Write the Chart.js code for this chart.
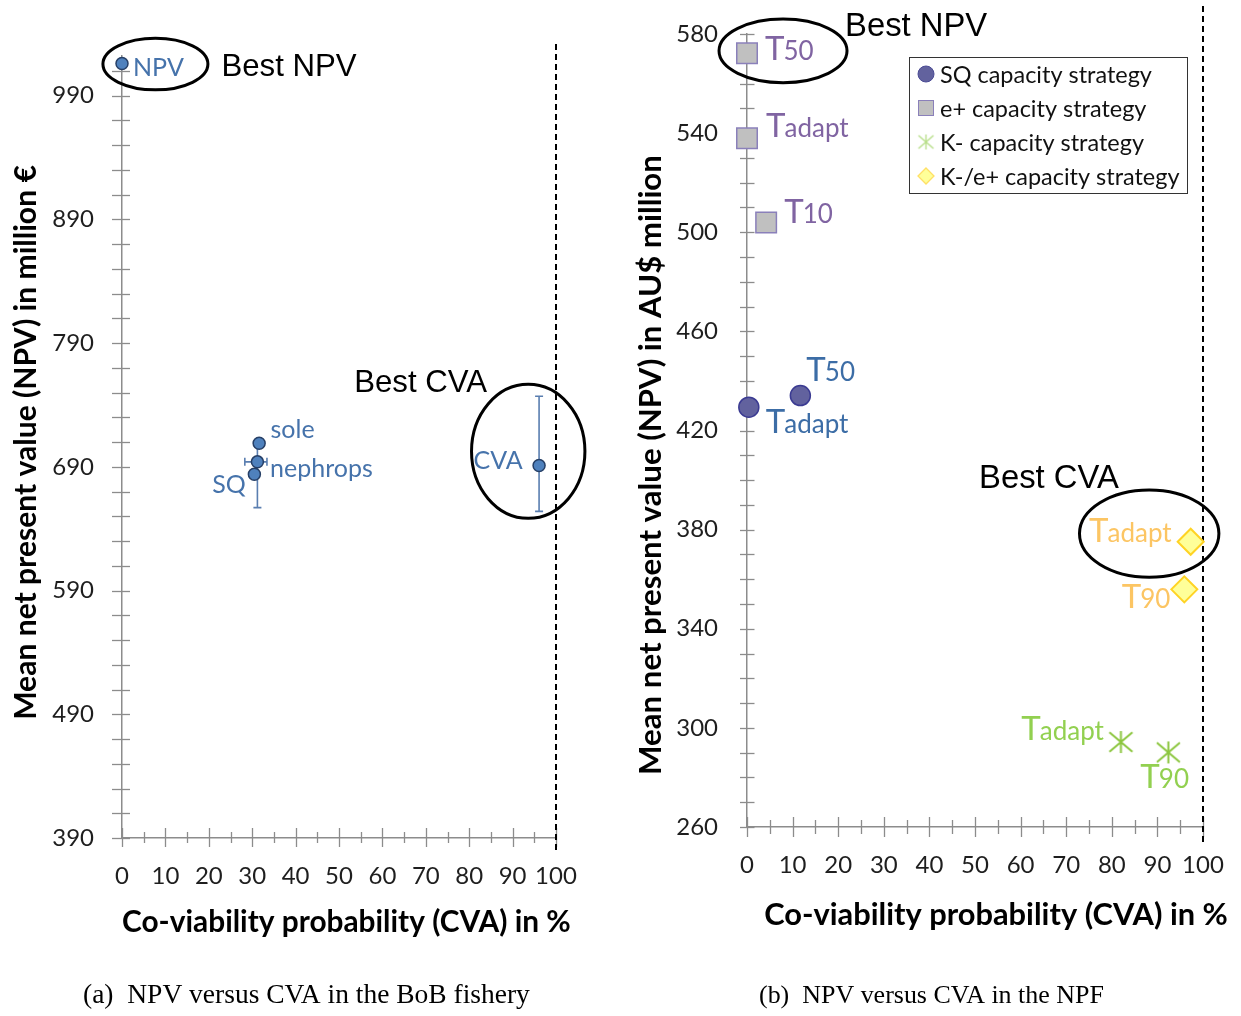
<!DOCTYPE html>
<html><head><meta charset="utf-8">
<script src="https://cdn.jsdelivr.net/npm/chart.js@4.4.1/dist/chart.umd.min.js"></script>
<style>
html,body{margin:0;padding:0;background:#fff;}
body{width:1241px;height:1016px;position:relative;overflow:hidden;}
canvas{position:absolute;}
#c1{left:0;top:0;}
#c2{left:620px;top:0;}
#cap{left:0;top:960px;}
</style></head><body>
<canvas id="c1" width="620" height="960"></canvas>
<canvas id="c2" width="621" height="960"></canvas>
<canvas id="cap" width="1241" height="56"></canvas>
<script>
// ---------------- DATA ----------------
// (a) BoB fishery
const bobLabels   = ['NPV', 'sole', 'nephrops', 'SQ', 'CVA'];
const bobCVA      = [0, 31.6, 31.2, 30.5, 96.1];
const bobNPV      = [1016, 709, 694, 684, 691];
const bobErrXLow  = [null, null, 28.3, null, null];
const bobErrXHigh = [null, null, 33.4, null, null];
const bobErrYLow  = [null, null, 657, null, 654];
const bobErrYHigh = [null, null, 709, null, 747];
const bobYMin = 390, bobYMax = 1022, bobYStep = 20, bobYLabelStep = 100;

// (b) NPF
const npfSeries = ['SQ capacity strategy', 'e+ capacity strategy', 'K- capacity strategy', 'K-/e+ capacity strategy'];
const sqLabels = ['Tadapt', 'T50'];
const sqCVA    = [0.4, 11.7];
const sqNPV    = [429.4, 434.1];
const ePlusLabels = ['T50', 'Tadapt', 'T10'];
const ePlusCVA    = [0, 0, 4.2];
const ePlusNPV    = [572.2, 537.9, 503.9];
const kMinusLabels = ['Tadapt', 'T90'];
const kMinusCVA    = [82.0, 92.4];
const kMinusNPV    = [294.3, 290.1];
const kMinusEPlusLabels = ['Tadapt', 'T90'];
const kMinusEPlusCVA    = [97.3, 95.9];
const kMinusEPlusNPV    = [375.1, 355.9];
const npfYMin = 260, npfYMax = 580, npfYStep = 10, npfYLabelStep = 40;

const xMin = 0, xMax = 100, xStep = 5, xLabelStep = 10;

const xTitleText = 'Co-viability probability (CVA) in %';
const bobYTitle = 'Mean net present value (NPV) in million €';
const npfYTitle = 'Mean net present value (NPV) in AU$ million';
const captionA = '(a)  NPV versus CVA in the BoB fishery';
const captionB = '(b)  NPV versus CVA in the NPF';

// ---------------- HELPERS ----------------
const mctx = document.createElement('canvas').getContext('2d');
function fitSize(text, weight, family, target) {
  mctx.font = weight + ' 100px ' + family;
  return 100 * target / mctx.measureText(text).width;
}
function toPts(xs, ys) { return xs.map((x, i) => ({x: x, y: ys[i]})); }

function makeAsterisk(w, h, color, lw) {
  const c = document.createElement('canvas');
  c.width = Math.ceil(w + 4); c.height = Math.ceil(h + 4);
  const g = c.getContext('2d');
  g.strokeStyle = color; g.lineWidth = lw;
  const cx = c.width / 2, cy = c.height / 2;
  g.beginPath();
  g.moveTo(cx, cy - h / 2); g.lineTo(cx, cy + h / 2);
  g.moveTo(cx - w / 2, cy - h / 2 * 0.88); g.lineTo(cx + w / 2, cy + h / 2 * 0.88);
  g.moveTo(cx - w / 2, cy + h / 2 * 0.88); g.lineTo(cx + w / 2, cy - h / 2 * 0.88);
  g.stroke();
  return c;
}

const TICK_COLOR = '#8c8c8c';
const FONT = 'Lato, "Open Sans", sans-serif';

function drawLabel(ctx, x, y, text, align, color, bigT, sizeBig, sizeSmall) {
  ctx.save();
  ctx.fillStyle = color;
  ctx.textBaseline = 'alphabetic';
  ctx.textAlign = 'left';
  if (bigT && text[0] === 'T') {
    const rest = text.slice(1);
    ctx.font = sizeBig + 'px ' + FONT; const w1 = ctx.measureText('T').width - 1;
    ctx.font = sizeSmall + 'px ' + FONT; const w2 = ctx.measureText(rest).width;
    const sx = align === 'right' ? x - w1 - w2 : x;
    ctx.font = sizeBig + 'px ' + FONT; ctx.fillText('T', sx, y);
    ctx.font = sizeSmall + 'px ' + FONT; ctx.fillText(rest, sx + w1, y);
  } else {
    ctx.font = sizeSmall + 'px ' + FONT;
    ctx.textAlign = align;
    ctx.fillText(text, x, y);
  }
  ctx.restore();
}

const overlayPlugin = {
  id: 'overlay',
  beforeDatasetsDraw(chart) {
    const o = chart.options.plugins.overlay;
    const ctx = chart.ctx, xs = chart.scales.x, ys = chart.scales.y;
    ctx.save();
    // cross tick marks
    ctx.strokeStyle = TICK_COLOR; ctx.lineWidth = 1.3;
    const ay = ys.getPixelForValue(ys.min), ax = xs.getPixelForValue(xs.min);
    xs.ticks.forEach(t => {
      const px = xs.getPixelForValue(t.value);
      const major = (t.value - xMin) % xLabelStep === 0;
      const up = major ? o.xTickMajor[0] : o.xTickMinor[0];
      const dn = major ? o.xTickMajor[1] : o.xTickMinor[1];
      ctx.beginPath(); ctx.moveTo(Math.round(px) + 0.5, ay - up); ctx.lineTo(Math.round(px) + 0.5, ay + dn); ctx.stroke();
    });
    ys.ticks.forEach(t => {
      const py = ys.getPixelForValue(t.value);
      ctx.beginPath(); ctx.moveTo(ax - o.yTick[0], Math.round(py) + 0.5); ctx.lineTo(ax + o.yTick[1], Math.round(py) + 0.5); ctx.stroke();
    });
    // dashed 100% line
    const dx = xs.getPixelForValue(100);
    ctx.strokeStyle = '#000'; ctx.lineWidth = 2; ctx.setLineDash([6, 4]);
    ctx.beginPath(); ctx.moveTo(dx, o.dashTop); ctx.lineTo(dx, o.dashBottom); ctx.stroke();
    ctx.setLineDash([]);
    // error bars
    if (o.errorBars) {
      const e = o.errorBars;
      ctx.strokeStyle = e.color; ctx.lineWidth = 1.6;
      e.x.forEach((xv, i) => {
        const px = xs.getPixelForValue(xv), py = ys.getPixelForValue(e.y[i]);
        if (e.yLow[i] != null) {
          const p1 = ys.getPixelForValue(e.yLow[i]), p2 = ys.getPixelForValue(e.yHigh[i]);
          ctx.beginPath(); ctx.moveTo(px, p1); ctx.lineTo(px, p2);
          ctx.moveTo(px - 4, p1); ctx.lineTo(px + 4, p1);
          ctx.moveTo(px - 4, p2); ctx.lineTo(px + 4, p2); ctx.stroke();
        }
        if (e.xLow[i] != null) {
          const p1 = xs.getPixelForValue(e.xLow[i]), p2 = xs.getPixelForValue(e.xHigh[i]);
          ctx.beginPath(); ctx.moveTo(p1, py); ctx.lineTo(p2, py);
          ctx.moveTo(p1, py - 4); ctx.lineTo(p1, py + 4);
          ctx.moveTo(p2, py - 4); ctx.lineTo(p2, py + 4); ctx.stroke();
        }
      });
    }
    ctx.restore();
  },
  afterDatasetsDraw(chart) {
    const o = chart.options.plugins.overlay;
    const ctx = chart.ctx, xs = chart.scales.x, ys = chart.scales.y;
    // point labels
    chart.data.datasets.forEach((ds, di) => {
      const place = o.labelPlace[di];
      const meta = chart.getDatasetMeta(di);
      ds.pointLabels.forEach((txt, i) => {
        const el = meta.data[i];
        const p = place[i];
        drawLabel(ctx, el.x + p[0], el.y + p[1], txt, p[2], ds.labelColor, o.bigT, o.labelBig, o.labelSmall);
      });
    });
    // ellipses
    ctx.save();
    ctx.strokeStyle = '#000'; ctx.lineWidth = 3;
    o.ellipses.forEach(e => {
      ctx.beginPath();
      ctx.ellipse(xs.getPixelForValue(e.x), ys.getPixelForValue(e.y), e.rx, e.ry, 0, 0, Math.PI * 2);
      ctx.stroke();
    });
    // annotation texts
    ctx.fillStyle = '#000'; ctx.textBaseline = 'alphabetic'; ctx.textAlign = 'left';
    ctx.font = o.noteSize + 'px "Liberation Sans", Arial, sans-serif';
    o.notes.forEach(n => ctx.fillText(n.text, xs.getPixelForValue(n.x), ys.getPixelForValue(n.y)));
    // axis titles
    const t = o.titles;
    ctx.fillStyle = '#000';
    let fs = fitSize(t.x.text, 'bold', FONT, t.x.width);
    ctx.font = 'bold ' + fs + 'px ' + FONT; ctx.textAlign = 'center';
    ctx.fillText(t.x.text, t.x.cx, t.x.baseline);
    fs = fitSize(t.y.text, 'bold', FONT, t.y.width);
    ctx.save();
    ctx.translate(t.y.baselineX, t.y.cy); ctx.rotate(-Math.PI / 2);
    ctx.font = 'bold ' + fs + 'px ' + FONT; ctx.textAlign = 'center';
    ctx.fillText(t.y.text, 0, 0);
    ctx.restore();
    // legend
    if (o.legend) {
      const L = o.legend;
      ctx.fillStyle = '#fff'; ctx.fillRect(L.left, L.top, L.right - L.left, L.bottom - L.top);
      ctx.strokeStyle = '#333'; ctx.lineWidth = 1;
      ctx.strokeRect(L.left + 0.5, L.top + 0.5, L.right - L.left, L.bottom - L.top);
      const lfs = fitSize(chart.data.datasets[0].label, 'normal', FONT, L.firstTextWidth);
      ctx.font = lfs + 'px ' + FONT; ctx.textAlign = 'left'; ctx.textBaseline = 'middle';
      chart.data.datasets.forEach((ds, di) => {
        const cy = L.rows[di], mx = L.markerX;
        const m = L.markers[di];
        ctx.save();
        ctx.fillStyle = m.fill; ctx.strokeStyle = m.stroke; ctx.lineWidth = m.lw;
        if (m.type === 'circle') { ctx.beginPath(); ctx.arc(mx, cy, m.size, 0, Math.PI * 2); ctx.fill(); ctx.stroke(); }
        else if (m.type === 'rect') { ctx.fillRect(mx - m.size, cy - m.size, m.size * 2, m.size * 2); ctx.strokeRect(mx - m.size, cy - m.size, m.size * 2, m.size * 2); }
        else if (m.type === 'diamond') { ctx.beginPath(); ctx.moveTo(mx, cy - m.size); ctx.lineTo(mx + m.size, cy); ctx.lineTo(mx, cy + m.size); ctx.lineTo(mx - m.size, cy); ctx.closePath(); ctx.fill(); ctx.stroke(); }
        else if (m.type === 'asterisk') { const img = makeAsterisk(m.size * 2, m.size * 2, m.stroke, m.lw); ctx.drawImage(img, mx - img.width / 2, cy - img.height / 2); }
        ctx.restore();
        ctx.fillStyle = '#111';
        ctx.fillText(ds.label, L.textX, cy + 1);
      });
    }
  }
};

function axisCfg(min, max, step, labelStep, padding, size) {
  return {
    type: 'linear', min: min, max: max,
    ticks: {
      stepSize: step, autoSkip: false, maxRotation: 0, padding: padding,
      color: '#1e1e1e', font: {family: FONT, size: 24},
      callback: v => ((v - min) % labelStep === 0 ? String(v) : '')
    },
    grid: {display: false, drawTicks: false},
    border: {display: true, color: TICK_COLOR, width: 1.5},
    afterBuildTicks: s => {
      const t = [];
      for (let v = min; v <= max + 1e-9; v += step) t.push({value: v});
      s.ticks = t;
    },
    afterFit: s => {
      if (s.isHorizontal()) s.height = size; else s.width = size;
      s.paddingTop = 0; s.paddingBottom = 0; s.paddingLeft = 0; s.paddingRight = 0;
    }
  };
}

// ---------------- CHART (a) ----------------
new Chart(document.getElementById('c1'), {
  type: 'scatter',
  data: {
    datasets: [{
      label: 'BoB', data: toPts(bobCVA, bobNPV), pointLabels: bobLabels, labelColor: '#4673ab', clip: false,
      pointRadius: 6, pointBackgroundColor: '#4f81bd', pointBorderColor: '#263f66', pointBorderWidth: 1.5
    }]
  },
  options: {
    responsive: false, animation: false, events: [],
    layout: {padding: {left: 0, right: 64, top: 56, bottom: 0}},
    scales: {
      x: axisCfg(xMin, xMax, xStep, xLabelStep, 24, 960 - 838),
      y: axisCfg(bobYMin, bobYMax, bobYStep, bobYLabelStep, 28, 122)
    },
    plugins: {
      legend: {display: false}, tooltip: {enabled: false},
      overlay: {
        xTickMajor: [10, 9], xTickMinor: [6, 5], yTick: [10, 8],
        dashTop: 44, dashBottom: 853,
        errorBars: {x: bobCVA, y: bobNPV, xLow: bobErrXLow, xHigh: bobErrXHigh, yLow: bobErrYLow, yHigh: bobErrYHigh, color: '#5a7eb0'},
        bigT: false, labelBig: 25, labelSmall: 25,
        labelPlace: [[[11, 12.4, 'left'], [11.4, -5, 'left'], [12.7, 15, 'left'], [-8.6, 19, 'right'], [-16.3, 3.3, 'right']]],
        ellipses: [{x: 7.7, y: 1015.5, rx: 52.5, ry: 25.8}, {x: 93.6, y: 702.5, rx: 56.7, ry: 67}],
        noteSize: 31.2,
        notes: [{text: 'Best NPV', x: 22.9, y: 1006}, {text: 'Best CVA', x: 53.5, y: 750.6}],
        titles: {
          x: {text: xTitleText, cx: 346.4, baseline: 931.5, width: 449},
          y: {text: bobYTitle, cy: 442.5, baselineX: 36, width: 555}
        }
      }
    }
  },
  plugins: [overlayPlugin]
});

// ---------------- CHART (b) ----------------
const asteriskImg = makeAsterisk(23, 22, '#8cc63f', 2);
new Chart(document.getElementById('c2'), {
  type: 'scatter',
  data: {
    datasets: [
      {label: npfSeries[0], data: toPts(sqCVA, sqNPV), pointLabels: sqLabels, labelColor: '#3c6da6', clip: false,
       pointStyle: 'circle', pointRadius: 10, pointBackgroundColor: '#62629e', pointBorderColor: '#3b3b92', pointBorderWidth: 1.5},
      {label: npfSeries[1], data: toPts(ePlusCVA, ePlusNPV), pointLabels: ePlusLabels, labelColor: '#8064a2', clip: false,
       pointStyle: 'rect', pointRadius: 14.5, pointBackgroundColor: '#c0c0c0', pointBorderColor: '#8a80ba', pointBorderWidth: 1.5},
      {label: npfSeries[2], data: toPts(kMinusCVA, kMinusNPV), pointLabels: kMinusLabels, labelColor: '#92d050', clip: false,
       pointStyle: asteriskImg, pointRadius: 11},
      {label: npfSeries[3], data: toPts(kMinusEPlusCVA, kMinusEPlusNPV), pointLabels: kMinusEPlusLabels, labelColor: '#fcc563', clip: false,
       pointStyle: 'rectRot', pointRadius: 13, pointBackgroundColor: '#ffff99', pointBorderColor: '#ffd324', pointBorderWidth: 2}
    ]
  },
  options: {
    responsive: false, animation: false, events: [],
    layout: {padding: {left: 0, right: 38, top: 34, bottom: 0}},
    scales: {
      x: axisCfg(xMin, xMax, xStep, xLabelStep, 24, 960 - 827),
      y: axisCfg(npfYMin, npfYMax, npfYStep, npfYLabelStep, 29, 127)
    },
    plugins: {
      legend: {display: false}, tooltip: {enabled: false},
      overlay: {
        xTickMajor: [10, 10], xTickMinor: [7, 7], yTick: [7, 7.5],
        dashTop: 6, dashBottom: 842,
        bigT: true, labelBig: 33, labelSmall: 26,
        labelPlace: [
          [[17, 26, 'left'], [6, -15, 'left']],
          [[18, 7, 'left'], [19, -1.6, 'left'], [18, 0, 'left']],
          [[-17, -2, 'right'], [-28, 36, 'left']],
          [[-19, 0, 'right'], [-14, 19, 'right']]
        ],
        ellipses: [{x: 7.9, y: 573.2, rx: 64, ry: 31.8}, {x: 88.2, y: 378.4, rx: 69.7, ry: 43.7}],
        noteSize: 32.8,
        notes: [{text: 'Best NPV', x: 21.5, y: 579.2}, {text: 'Best CVA', x: 50.9, y: 396.8}],
        titles: {
          x: {text: xTitleText, cx: 376, baseline: 925, width: 464},
          y: {text: npfYTitle, cy: 465, baselineX: 41, width: 620}
        },
        legend: {
          left: 289, top: 57, right: 567, bottom: 193, markerX: 306, textX: 320,
          rows: [74, 108, 142, 176], firstTextWidth: 212,
          markers: [
            {type: 'circle', size: 8, fill: '#62629e', stroke: '#4b4b95', lw: 1},
            {type: 'rect', size: 7.5, fill: '#c0c0c0', stroke: '#8a80ba', lw: 1},
            {type: 'asterisk', size: 7.5, fill: 'none', stroke: '#b5dd85', lw: 1.3},
            {type: 'diamond', size: 8, fill: '#ffff99', stroke: '#ffe066', lw: 1.3}
          ]
        }
      }
    }
  },
  plugins: [overlayPlugin]
});

// ---------------- CAPTIONS ----------------
(function () {
  const c = document.getElementById('cap').getContext('2d');
  c.fillStyle = '#000'; c.textBaseline = 'alphabetic'; c.textAlign = 'left';
  const fam = '"Liberation Serif", "Times New Roman", serif';
  let fs = fitSize(captionA, 'normal', fam, 447);
  c.font = fs + 'px ' + fam; c.fillText(captionA, 83, 43);
  fs = fitSize(captionB, 'normal', fam, 345);
  c.font = fs + 'px ' + fam; c.fillText(captionB, 759, 43);
})();
</script>
</body></html>
